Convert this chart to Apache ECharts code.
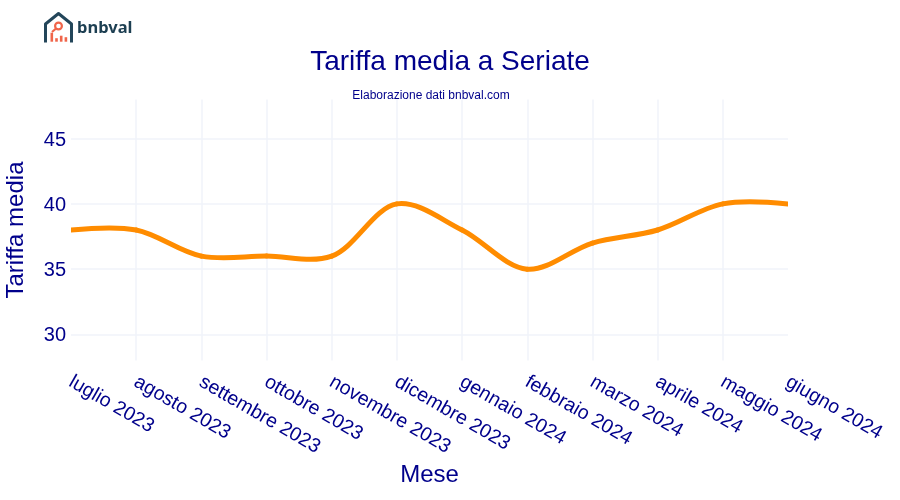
<!DOCTYPE html>
<html><head><meta charset="utf-8">
<script src="https://cdn.jsdelivr.net/npm/echarts@6/dist/echarts.min.js"></script>
<style>html,body{margin:0;padding:0;background:#fff}#c{width:900px;height:500px}</style>
</head><body><div id="c"></div>
<script>
const categories = ['luglio 2023','agosto 2023','settembre 2023','ottobre 2023','novembre 2023','dicembre 2023','gennaio 2024','febbraio 2024','marzo 2024','aprile 2024','maggio 2024','giugno 2024'];
const tariffa = [38,38,36,36,36,40,38,35,37,38,40,40];
const yTicks = [30,35,40,45];
const logoBars = [9,3.5,6,4.5];
const navy = '#00008b', grid = '#f1f3fa', font = '"Liberation Sans",Arial,sans-serif';

function tangent(a,b,c){
  const d1x=a[0]-b[0],d1y=a[1]-b[1],d2x=c[0]-b[0],d2y=c[1]-b[1];
  const d1a=Math.pow(d1x*d1x+d1y*d1y,.25),d2a=Math.pow(d2x*d2x+d2y*d2y,.25);
  const nx=d2a*d2a*d1x-d1a*d1a*d2x,ny=d2a*d2a*d1y-d1a*d1a*d2y;
  const e1=3*d2a*(d1a+d2a),e2=3*d1a*(d1a+d2a);
  return [[b[0]+nx/e1,b[1]+ny/e1],[b[0]-nx/e2,b[1]-ny/e2]];
}
function renderSpline(params,api){
  const i=params.dataIndex,n=params.dataInsideLength;
  if(i>=n-1) return null;
  const p=k=>api.coord([k,tariffa[k]]);
  const a=p(i),b=p(i+1);
  const shape={x1:a[0],y1:a[1],x2:b[0],y2:b[1]};
  if(i===0){const t=tangent(a,b,p(2));shape.cpx1=t[0][0];shape.cpy1=t[0][1];}
  else if(i===n-2){const t=tangent(p(i-1),a,b);shape.cpx1=t[1][0];shape.cpy1=t[1][1];}
  else{const t1=tangent(p(i-1),a,b),t2=tangent(a,b,p(i+2));
    shape.cpx1=t1[1][0];shape.cpy1=t1[1][1];shape.cpx2=t2[0][0];shape.cpy2=t2[0][1];}
  return {type:'bezierCurve',shape,silent:true,style:{stroke:'#ff8c00',lineWidth:5,fill:null,lineCap:'round'}};
}
const chart = echarts.init(document.getElementById('c'));
chart.setOption({
  animation:false,
  backgroundColor:'#fff',
  title:[
    {text:'Tariffa media a Seriate',left:445,top:43,textAlign:'center',textStyle:{color:navy,fontFamily:font,fontSize:28,fontWeight:'normal'}},
    {text:'Elaborazione dati bnbval.com',left:426,top:85,textAlign:'center',textStyle:{color:navy,fontFamily:font,fontSize:12,fontWeight:'normal'}}
  ],
  grid:{left:71,right:112,top:99.5,bottom:139.5,outerBoundsMode:'none'},
  xAxis:{type:'category',data:categories,boundaryGap:false,
    name:'Mese',nameLocation:'middle',nameGap:103,nameTextStyle:{color:navy,fontFamily:font,fontSize:24},
    axisLine:{show:false},axisTick:{show:false},
    splitLine:{show:true,interval:(i)=>i>0&&i<categories.length-1,lineStyle:{color:grid,width:1.5}},
    axisLabel:{interval:0,rotate:-30,color:navy,fontFamily:font,fontSize:19.6,margin:9,padding:[0,0,0,5],align:'left',verticalAlign:'top',hideOverlap:false}},
  yAxis:{type:'value',min:28,max:48,
    name:'Tariffa media',nameLocation:'middle',nameGap:43,nameRotate:90,nameTextStyle:{color:navy,fontFamily:font,fontSize:24},
    axisLine:{show:false},axisTick:{show:false,customValues:yTicks},
    splitLine:{show:true,lineStyle:{color:grid,width:1.5}},
    axisLabel:{color:navy,fontFamily:font,fontSize:20,margin:5,verticalAlign:'top',lineHeight:3,customValues:yTicks}},
  series:[{type:'custom',coordinateSystem:'cartesian2d',clip:true,encode:{x:0,y:1},
    data:tariffa.map((v,i)=>[i,v]),renderItem:renderSpline}],
  graphic:[
    {type:'polyline',shape:{points:[[45.5,42.5],[45.5,24],[58.5,13.5],[71.5,24],[71.5,42.5]]},style:{stroke:'#23465a',lineWidth:3,fill:null,lineJoin:'round'}},
    {type:'circle',shape:{cx:58.5,cy:26,r:3.4},style:{stroke:'#f0654a',lineWidth:2.2,fill:null}},
    {type:'line',shape:{x1:56,y1:28.5,x2:52,y2:32},style:{stroke:'#f0654a',lineWidth:2.2}},
    ...logoBars.map((h,i)=>({type:'rect',shape:{x:50.5+i*4.7,y:41.7-h,width:2.6,height:h},style:{fill:'#f0654a'}})),
    {type:'text',left:77,top:20,style:{text:'bnbval',fill:'#1d3f52',font:'bold 16.5px "Noto Sans",sans-serif'}}
  ]
});
</script></body></html>
